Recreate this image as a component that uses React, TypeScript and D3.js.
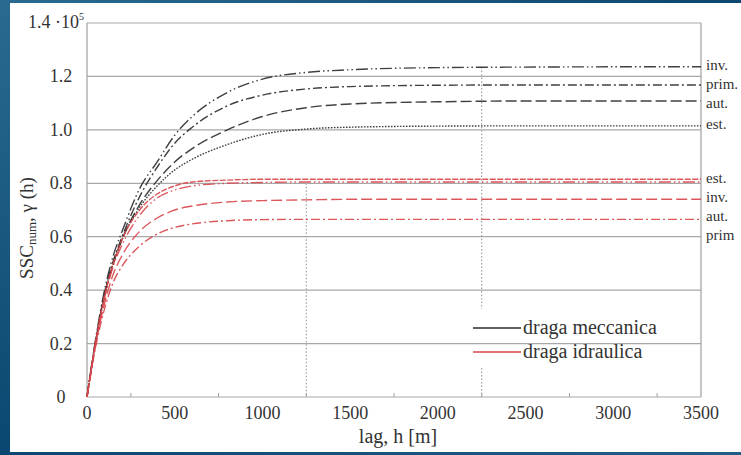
import React from 'react'
import * as d3 from 'd3'

const lags = [0, 50, 100, 150, 200, 300, 400, 500, 600, 800, 1000, 1250, 1500, 2000, 2500, 3000, 3500]

// draga meccanica
const meccInv = [0, 0.22, 0.40, 0.53, 0.62, 0.78, 0.88, 0.98, 1.05, 1.14, 1.19, 1.215, 1.225, 1.233, 1.235, 1.236, 1.236]
const meccPrim = [0, 0.21, 0.39, 0.51, 0.60, 0.75, 0.86, 0.95, 1.01, 1.09, 1.13, 1.153, 1.162, 1.167, 1.168, 1.168, 1.168]
const meccAut = [0, 0.21, 0.38, 0.50, 0.59, 0.72, 0.81, 0.88, 0.93, 1.0, 1.05, 1.083, 1.097, 1.105, 1.108, 1.108, 1.108]
const meccEst = [0, 0.21, 0.38, 0.50, 0.59, 0.71, 0.79, 0.85, 0.89, 0.945, 0.983, 1.003, 1.01, 1.014, 1.015, 1.015, 1.015]

// draga idraulica
const idrEst = [0, 0.21, 0.38, 0.50, 0.59, 0.70, 0.76, 0.79, 0.805, 0.812, 0.815, 0.815, 0.815, 0.815, 0.815, 0.815, 0.815]
const idrInv = [0, 0.21, 0.37, 0.49, 0.57, 0.68, 0.745, 0.775, 0.79, 0.80, 0.803, 0.805, 0.805, 0.805, 0.805, 0.805, 0.805]
const idrAut = [0, 0.20, 0.35, 0.46, 0.53, 0.62, 0.67, 0.70, 0.715, 0.73, 0.735, 0.738, 0.74, 0.74, 0.74, 0.74, 0.74]
const idrPrim = [0, 0.19, 0.33, 0.43, 0.49, 0.565, 0.61, 0.635, 0.648, 0.66, 0.664, 0.665, 0.665, 0.665, 0.665, 0.665, 0.665]

const xTicks = [0, 500, 1000, 1500, 2000, 2500, 3000, 3500]
const yTicks = [0, 0.2, 0.4, 0.6, 0.8, 1.0, 1.2, 1.4]
const minorX = [250, 750, 1250, 1750, 2250, 2750, 3250]
// range marks: lag and the sill they rise to
const rangeLags = [1250, 2250]
const rangeTops = [0.8, 1.235]

const groups = [
  { name: 'draga meccanica', color: '#2b2b2b', series: [
    { label: 'inv.', values: meccInv, dash: '12,3,1.5,3,1.5,3' },
    { label: 'prim.', values: meccPrim, dash: '9,3,2,3' },
    { label: 'aut.', values: meccAut, dash: '11,4' },
    { label: 'est.', values: meccEst, dash: '1.6,1.4' },
  ] },
  { name: 'draga idraulica', color: '#d8454a', series: [
    { label: 'est.', values: idrEst, dash: '6,1.5' },
    { label: 'inv.', values: idrInv, dash: '12,3,1.5,3,1.5,3' },
    { label: 'aut.', values: idrAut, dash: '11,4' },
    { label: 'prim', values: idrPrim, dash: '9,3,2,3' },
  ] },
]

const W = 741
const H = 455
const serif = '"Liberation Serif", "DejaVu Serif", serif'

export default function App() {
  const x = d3.scaleLinear().domain([0, 3500]).range([87, 701])
  const y = d3.scaleLinear().domain([0, 1.4]).range([397, 23])
  const line = d3.line<number>()
    .x((_, i) => x(lags[i]))
    .y(v => y(v))
    .curve(d3.curveMonotoneX)

  // right-hand labels, pushed apart so they don't overlap
  const labels: { text: string; y: number }[] = []
  groups.forEach(g => {
    let prev = -Infinity
    g.series
      .map(s => ({ text: s.label, y: y(s.values[s.values.length - 1]) }))
      .sort((a, b) => a.y - b.y)
      .forEach(l => {
        const ly = Math.max(l.y, prev + 19)
        labels.push({ text: l.text, y: ly })
        prev = ly
      })
  })

  return (
    <svg width={W} height={H} style={{ position: 'absolute', left: 0, top: 0 }} fontFamily={serif}>
      <defs>
        <linearGradient id="bg" x1="0" y1="0" x2="1" y2="1">
          <stop offset="0" stopColor="#2a6a90" />
          <stop offset="0.5" stopColor="#0b4770" />
          <stop offset="1" stopColor="#1f5f86" />
        </linearGradient>
      </defs>
      <rect width={W} height={H} fill="url(#bg)" />
      <rect x={10} y={3} width={W - 10} height={449} fill="#ffffff" />

      {/* range marks */}
      {rangeLags.map((h, i) => (
        <line key={h} x1={x(h)} x2={x(h)} y1={y(rangeTops[i])} y2={y(0)}
          stroke="#8a8a8a" strokeWidth={1} strokeDasharray="1.5,2" />
      ))}
      {/* legend background hides the range mark */}
      <rect x={468} y={309} width={225} height={57} fill="#ffffff" />

      {/* grid */}
      {yTicks.map(t => (
        <line key={t} x1={x(0)} x2={x(3500)} y1={y(t)} y2={y(t)} stroke="#a8a8a8" strokeWidth={1.2} />
      ))}
      <line x1={x(0)} x2={x(0)} y1={y(0)} y2={y(1.4)} stroke="#a0a0a0" strokeWidth={1.2} />
      <line x1={x(3500)} x2={x(3500)} y1={y(0)} y2={y(1.4)} stroke="#a0a0a0" strokeWidth={1.2} />
      {minorX.map(t => (
        <line key={t} x1={x(t)} x2={x(t)} y1={y(0)} y2={y(0) - 4} stroke="#a0a0a0" />
      ))}

      {/* curves */}
      {groups.map(g => g.series.map(s => (
        <path key={g.name + s.label} d={line(s.values) || ''} fill="none" stroke={g.color}
          strokeOpacity={0.9} strokeWidth={1.4} strokeDasharray={s.dash} />
      )))}

      {/* y ticks */}
      {yTicks.map(t => t === 1.4 ? (
        <text key={t} x={84} y={y(t) + 5} textAnchor="end" fontSize={18} fill="#333">
          1.4 ·10<tspan dy={-8} fontSize={10}>5</tspan>
        </text>
      ) : (
        <text key={t} x={61} y={y(t) + 6} textAnchor="middle" fontSize={18} fill="#333">
          {t === 0 ? '0' : t.toFixed(1)}
        </text>
      ))}

      {/* x ticks */}
      {xTicks.map(t => (
        <text key={t} x={x(t)} y={419} textAnchor="middle" fontSize={18} fill="#333">{t}</text>
      ))}
      <text x={398} y={443} textAnchor="middle" fontSize={20} fill="#333">lag, h [m]</text>
      <text transform="translate(33,228) rotate(-90)" textAnchor="middle" fontSize={19} fill="#333">
        SSC<tspan fontSize={13} dy={3}>num</tspan><tspan dy={-3}>, γ (h)</tspan>
      </text>

      {/* right labels */}
      {labels.map((l, i) => (
        <text key={i} x={706} y={l.y} dominantBaseline="middle" fontSize={15} fill="#333">{l.text}</text>
      ))}

      {/* legend */}
      {groups.map((g, i) => (
        <g key={g.name} transform={`translate(473,${328 + i * 24})`}>
          <line x1={0} x2={48} y1={0} y2={0} stroke={g.color} strokeWidth={1.4} />
          <text x={50} y={6} fontSize={20} fill="#333">{g.name}</text>
        </g>
      ))}
    </svg>
  )
}
